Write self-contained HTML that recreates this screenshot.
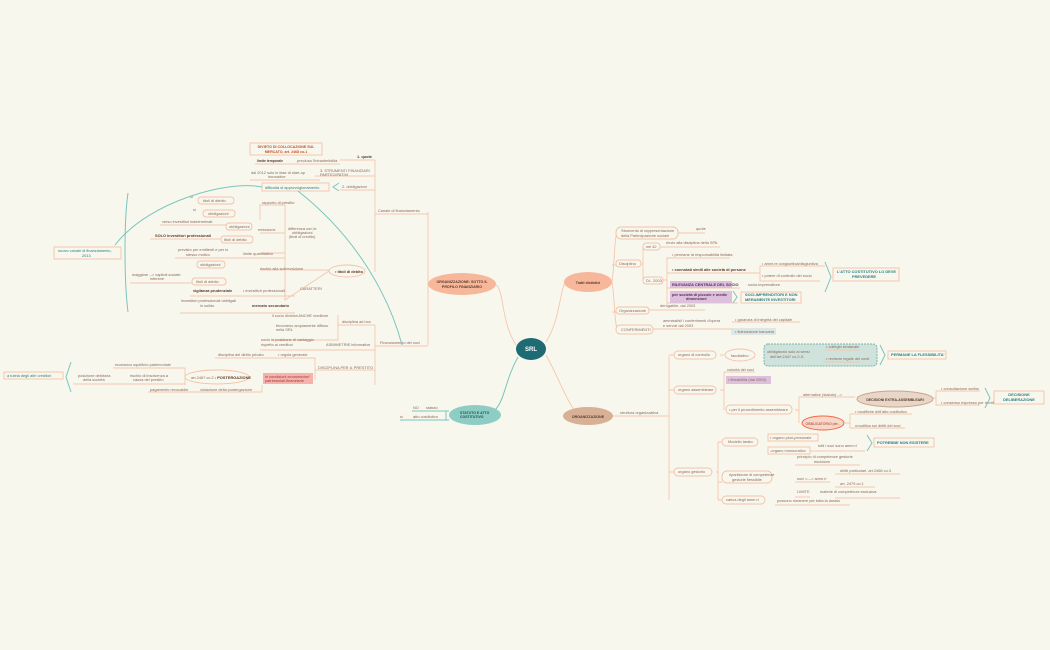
<!DOCTYPE html>
<html><head><meta charset="utf-8"><style>
html,body{margin:0;padding:0;background:#f8f7ee;}
svg{display:block}
text{font-family:"Liberation Sans",sans-serif;font-size:3.9px;fill:#8a6a5a}
.b{font-weight:bold;fill:#5a3a2a}
.t{fill:#2a7f86}
.l{stroke:#f5c7ad;stroke-width:0.9;fill:none}
.lt{stroke:#7cc4bd;stroke-width:1;fill:none}
.box{fill:#f8f7ee;stroke:#f3c1a5;stroke-width:0.9}
</style></head><body>
<svg width="1050" height="650" viewBox="0 0 1050 650">
<rect width="1050" height="650" fill="#f8f7ee"/>
<path class="l" d="M516 345 C500 320,505 290,495 284" stroke-width="2"/>
<path class="l" d="M546 342 C560 320,560 290,565 283" stroke-width="2"/>
<path class="l" d="M546 355 C560 380,570 410,580 416" stroke-width="2"/>
<path class="lt" d="M518 357 C505 380,505 400,495 410" stroke-width="2"/>

<ellipse cx="531" cy="349" rx="15" ry="11" fill="#1f6b74"/>
<text x="531" y="351" text-anchor="middle" style="font-size:6px;font-weight:bold;fill:#fff">SRL</text>

<ellipse cx="462" cy="284" rx="34" ry="11" fill="#f7b79a"/>
<text x="462" y="283" text-anchor="middle" class="b" style="font-size:3.6px">ORGANIZZAZIONE: SOTTO IL</text>
<text x="462" y="288" text-anchor="middle" class="b" style="font-size:3.6px">PROFILO FINANZIARIO</text>
<path class="l" d="M428 212 V345"/>
<path class="l" d="M375 214 H428 M375 346 H428"/>
<text x="378" y="212">Canale di finanziamento</text>
<text x="380" y="344">Finanziamento dei soci</text>
<path class="l" d="M375 160 V272"/>
<path class="l" d="M340 160 H375 M315 176 H375 M340 190 H375"/>
<text x="357" y="158" class="b">1. quote</text>
<text x="320" y="172">3. STRUMENTI FINANZIARI</text>
<text x="320" y="176">PARTECIPATIVI</text>
<text x="342" y="188">2. obbligazioni</text>
<rect x="250" y="143" width="72" height="12" class="box" fill="#fbe0d0"/>
<text x="286" y="148" text-anchor="middle" class="b" style="fill:#c0502a;font-size:3.6px">DIVIETO DI COLLOCAZIONE SUL</text>
<text x="286" y="153" text-anchor="middle" class="b" style="fill:#c0502a;font-size:3.6px">MERCATO, art. 2468 co.1</text>
<path class="l" d="M255 164 H340"/>
<text x="257" y="162" class="b" style="font-size:3.4px">limite temporale</text>
<text x="297" y="162">preclusa l'intrasferibilità</text>
<path class="l" d="M250 180 H320"/>
<text x="251" y="174">dal 2012 solo in fase di start-up</text>
<text x="268" y="178">innovative</text>
<rect x="262" y="183" width="67" height="8" class="box"/>
<text x="265" y="189" class="t">difficoltà di approvvigionamento</text>
<path class="lt" d="M339 183 L333 187 L339 191"/>
<ellipse cx="347" cy="271" rx="18" ry="6" class="box"/>
<text x="335" y="273" class="b">• titoli di debito</text>
<path class="l" d="M285 205 V300 L329 271 M290 270 H329"/>
<path class="l" d="M285 205 H260 V220 M285 233 H260 M285 253 H260 M285 270 H260 M285 290 V300"/>
<text x="262" y="204">rapporto di prestito</text>
<text x="288" y="230">differenza con le</text>
<text x="292" y="234">obbligazioni</text>
<text x="289" y="238">(titoli di credito)</text>
<text x="258" y="231">emissione</text>
<text x="243" y="255">limite quantitativo</text>
<text x="260" y="270">rischio alla sottoscrizione</text>
<text x="300" y="290">CARATTERI</text>
<rect x="198" y="197" width="36" height="7" rx="3" class="box"/><text x="203" y="202">titoli di debito</text>
<rect x="203" y="210" width="32" height="7" rx="3" class="box"/><text x="208" y="215">obbligazioni</text>
<text x="190" y="198">sì</text><text x="193" y="211">sì</text>
<rect x="226" y="223" width="26" height="7" rx="3" class="box"/><text x="229" y="228">obbligazioni</text>
<rect x="221" y="236" width="32" height="7" rx="3" class="box"/><text x="224" y="241">titoli di debito</text>
<path class="l" d="M160 225 H226 M150 239 H221"/>
<text x="162" y="223">verso investitori indeterminati</text>
<text x="155" y="237" class="b">SOLO investitori professionali</text>
<path class="l" d="M175 258 H285"/>
<text x="178" y="251">previsto per emittenti e per lo</text>
<text x="186" y="256">stesso motivo</text>
<rect x="197" y="261" width="28" height="7" rx="3" class="box"/><text x="200" y="266">obbligazioni</text>
<rect x="192" y="278" width="34" height="7" rx="3" class="box"/><text x="196" y="283">titoli di debito</text>
<path class="l" d="M130 283 H192"/>
<text x="132" y="276">maggiore --&gt; capitoli sociale</text>
<text x="150" y="280">inferiore</text>
<path class="l" d="M190 296 H295 M180 313 H295"/>
<text x="193" y="292" class="b">vigilanza prudenziale</text>
<text x="243" y="292">• investitori professionali</text>
<text x="181" y="302">investitori professionali obbligati</text>
<text x="200" y="307">in solido</text>
<text x="252" y="307" class="b">mercato secondario</text>
<path class="lt" d="M128 193 C124 220,124 280,128 312" stroke-width="1.2"/>
<rect x="54" y="247" width="67" height="12" class="box"/>
<text x="58" y="252" class="t">nuovo canale di finanziamento,</text>
<text x="82" y="257" class="t">2013</text>
<path class="lt" d="M115 245 C150 200,230 180,262 187"/>
<path class="lt" d="M298 191 C360 240,390 300,402 345"/>
<path class="l" d="M375 325 V370 M337 325 H375 M272 340 H338 V315 M338 325 V340 M260 350 H375 M315 370 H375 V385 M315 370 V380"/>
<text x="342" y="323">disciplina ad hoc</text>
<text x="272" y="317">il socio diventa ANCHE creditore</text>
<text x="276" y="327">fenomeno ampiamente diffuso</text>
<text x="276" y="331">nella SRL</text>
<text x="261" y="341">socio in posizione di vantaggio</text>
<text x="261" y="346">rispetto ai creditori</text>
<text x="326" y="346">ASIMMETRIE informative</text>
<text x="318" y="369">DISCIPLINA PER IL PRESTITO</text>
<path class="l" d="M215 358 H315 V370"/>
<text x="218" y="356">disciplina del diritto privato</text>
<text x="278" y="356">• regola generale</text>
<rect x="263" y="373" width="50" height="11" fill="#f6b3ae"/>
<text x="265" y="378" style="fill:#a03a30">in condizioni economiche/</text>
<text x="265" y="382" style="fill:#a03a30">patrimoniali-finanziarie</text>
<ellipse cx="217" cy="377" rx="32" ry="7" class="box"/>
<text x="191" y="379">art.2467 co.2 • <tspan class="b">POSTERGAZIONE</tspan></text>
<path class="l" d="M113 368 H185 V385 M73 384 H185 M148 392 H262 V385"/>
<text x="115" y="366">eccessivo squilibrio patrimoniale</text>
<text x="78" y="377">posizione debitoria</text>
<text x="83" y="381">della società</text>
<text x="130" y="377">rischio di insolvenza a</text>
<text x="133" y="381">causa del prestito</text>
<text x="150" y="391">pagamento revocabile</text>
<text x="200" y="391">violazione della postergazione</text>
<path class="lt" d="M71 362 L66 377 L71 392"/>
<rect x="4" y="372" width="59" height="7" class="box"/>
<text x="7" y="377" class="t">a tutela degli altri creditori</text>

<ellipse cx="475" cy="415" rx="26" ry="10" fill="#8ecdc4"/>
<text x="460" y="414" class="b" style="font-size:3.5px;fill:#1f4f55">STATUTO E ATTO</text>
<text x="460" y="418" class="b" style="font-size:3.5px;fill:#1f4f55">COSTITUTIVO</text>
<path class="lt" d="M412 411 H449 M400 420 H449 M446 411 V420"/>
<text x="413" y="409">NO</text><text x="426" y="409">statuto</text>
<text x="400" y="418">sì</text><text x="413" y="418">atto costitutivo</text>

<ellipse cx="588" cy="282" rx="24" ry="10" fill="#f7b79a"/>
<text x="588" y="284" text-anchor="middle" class="b" style="font-size:3.6px">Tratti distintivi</text>
<path class="l" d="M612 282 C615 260,614 240,617 232 M612 282 C615 300,614 320,617 328 M612 265 H618 M612 312 H618"/>
<rect x="616" y="227" width="62" height="12" rx="5" class="box"/>
<text x="621" y="232">Strumento di rappresentazione</text>
<text x="621" y="237">della Partecipazione sociale</text>
<path class="l" d="M678 233 H705"/><text x="696" y="230">quote</text>
<rect x="616" y="260" width="25" height="7" rx="3" class="box"/><text x="619" y="265">Disciplina</text>
<path class="l" d="M641 264 H643 V247 V280 M643 247 H660 M643 280 H660"/>
<rect x="643" y="243" width="17" height="7" rx="3" class="box"/><text x="646" y="248">nel 42</text>
<path class="l" d="M660 247 H720"/><text x="666" y="244">rinvio alla disciplina della SPA</text>
<rect x="643" y="277" width="20" height="7" rx="3" class="box"/><text x="646" y="282">DL. 2003</text>
<path class="l" d="M663 280 H667 V257 V305 M667 258 H730 M667 273 H760 M667 288 H740 M667 303 H738"/>
<text x="672" y="256">• permane la responsabilità limitata</text>
<text x="672" y="271" class="b">• connotati simili alle società di persone</text>
<path class="l" d="M760 273 V266 H825 M760 273 V281 H820"/>
<text x="762" y="265">• amm.re congiuntiva/disgiuntiva</text>
<text x="762" y="277">• potere di controllo del socio</text>
<rect x="670" y="281" width="62" height="7" fill="#dcc0dc"/>
<text x="672" y="286" class="b" style="fill:#5a2a5a">RILEVANZA CENTRALE DEL SOCIO</text>
<text x="748" y="286">socio-imprenditore</text>
<rect x="670" y="291" width="62" height="12" fill="#dcc0dc"/>
<text x="672" y="296" class="b" style="fill:#5a2a5a">per società di piccole e medie</text>
<text x="686" y="300" class="b" style="fill:#5a2a5a">dimensioni</text>
<path class="lt" d="M733 291 L737 297 L733 303"/>
<rect x="741" y="292" width="60" height="11" class="box"/>
<text x="745" y="296" class="b" style="fill:#2a7f86">SOCI-IMPRENDITORI E NON</text>
<text x="745" y="301" class="b" style="fill:#2a7f86">MERAMENTE INVESTITORI</text>
<path class="lt" d="M825 262 L831 277 L825 292"/>
<rect x="833" y="268" width="66" height="13" class="box"/>
<text x="837" y="273" class="b" style="fill:#2a7f86">L'ATTO COSTITUTIVO LO DEVE</text>
<text x="852" y="278" class="b" style="fill:#2a7f86">PREVEDERE</text>
<rect x="616" y="307" width="33" height="7" rx="3" class="box"/><text x="619" y="312">Organizzazione</text>
<path class="l" d="M649 310 H705"/><text x="660" y="307">derogabile, dal 2003</text>
<rect x="616" y="325" width="37" height="9" rx="4" class="box"/><text x="621" y="331">CONFERIMENTI</text>
<path class="l" d="M653 329 H732 M732 322 H800 M732 329 V335"/>
<text x="663" y="322">ammissibili i conferimenti d'opera</text>
<text x="663" y="327">e servizi dal 2003</text>
<text x="735" y="321">• garanzia di integrità del capitale</text>
<rect x="732" y="328" width="44" height="7" fill="#dde8e6"/>
<text x="735" y="333">• fideiussione bancaria</text>

<ellipse cx="588" cy="416" rx="25" ry="9" fill="#d8b096"/>
<text x="588" y="418" text-anchor="middle" class="b" style="font-size:3.6px">ORGANIZZAZIONE</text>
<path class="l" d="M613 416 H667"/>
<text x="620" y="414">struttura organizzativa</text>
<path class="l" d="M669 356 V500 M667 416 H669 M669 355 H675 M669 390 H675 M669 472 H675"/>
<rect x="674" y="351" width="42" height="8" rx="4" class="box"/><text x="678" y="356">organo di controllo</text>
<path class="l" d="M720 355 H724"/>
<ellipse cx="740" cy="355" rx="15" ry="6" class="box"/><text x="731" y="357">facoltativo</text>
<rect x="764" y="344" width="113" height="22" rx="4" fill="#cfe3dc" stroke="#6fb7af" stroke-dasharray="2,1"/>
<text x="767" y="353">obbligatorio solo ai sensi</text>
<text x="770" y="358">dell'art.2447 co.2-3-</text>
<path class="l" d="M825 350 H860 M825 362 H860"/>
<text x="826" y="348">• collegio sindacale</text>
<text x="826" y="360">• revisore legale dei conti</text>
<path class="lt" d="M880 345 L885 355 L880 365"/>
<rect x="888" y="351" width="58" height="8" class="box"/>
<text x="891" y="356" class="b" style="fill:#2a7f86">PERMANE LA FLESSIBILITA'</text>
<rect x="674" y="386" width="42" height="8" rx="4" class="box"/><text x="678" y="391">organo assembleare</text>
<path class="l" d="M720 390 H724 V372 V410 M724 372 H755"/>
<text x="727" y="371">volontà dei soci</text>
<rect x="726" y="376" width="45" height="8" fill="#dcc0dc"/>
<text x="728" y="381">• flessibilità (dal 2003)</text>
<rect x="726" y="405" width="66" height="9" rx="4" class="box"/>
<text x="729" y="411">• per il procedimento assembleare</text>
<path class="l" d="M795 410 H799 V397 V423 M799 397 H855"/>
<text x="803" y="396">alternative (statuto)  --&gt;</text>
<ellipse cx="895" cy="399" rx="38" ry="8" fill="#e8d6c8" stroke="#c9a58d"/>
<text x="895" y="401" text-anchor="middle" class="b" style="fill:#5a3a2a;font-size:3.5px">DECISIONI EXTRA-ASSEMBLEARI</text>
<path class="l" d="M933 398 H936 V391 V406 M936 391 H980 M936 405 H980"/>
<text x="941" y="390">• consultazione scritta</text>
<text x="941" y="404">• consenso espresso per iscritto</text>
<path class="lt" d="M985 388 L990 398 L985 408"/>
<rect x="994" y="391" width="50" height="13" class="box"/>
<text x="1019" y="396" text-anchor="middle" class="b" style="fill:#2a7f86">DECISIONE</text>
<text x="1019" y="401" text-anchor="middle" class="b" style="fill:#2a7f86">DELIBERAZIONE</text>
<ellipse cx="823" cy="423" rx="21" ry="7" fill="#f9d7c7" stroke="#f06a4a"/>
<text x="823" y="425" text-anchor="middle" style="fill:#a03a30;font-size:3.5px">OBBLIGATORIO per...</text>
<path class="l" d="M844 423 H850 V414 V428 M850 414 H912 M850 428 H905"/>
<text x="855" y="413">• modifiche dell'atto costitutivo</text>
<text x="855" y="427">•modifica sui diritti dei soci</text>
<rect x="674" y="468" width="38" height="8" rx="4" class="box"/><text x="678" y="473">organo gestorio</text>
<path class="l" d="M716 472 H718 V442 V500 M718 442 H722 M718 482 H722 M718 500 H722"/>
<rect x="722" y="438" width="36" height="8" rx="4" class="box"/><text x="728" y="443">Modello tarato</text>
<rect x="768" y="434" width="50" height="7" class="box"/><text x="770" y="439">• organo pluri-personale</text>
<rect x="768" y="447" width="42" height="7" class="box"/><text x="770" y="452">-organo monocratico</text>
<path class="l" d="M810 451 H865"/><text x="818" y="447">tutti i soci sono amm.ri</text>
<path class="lt" d="M867 435 L872 443 L867 451"/>
<rect x="874" y="438" width="60" height="9" class="box"/>
<text x="877" y="444" class="b" style="fill:#2a7f86">POTREBBE NON ESISTERE</text>
<rect x="722" y="471" width="50" height="12" rx="5" class="box"/>
<text x="729" y="476">ripartizione di competenze</text>
<text x="732" y="481">gestorie flessibile</text>
<path class="l" d="M795 465 H860 M795 482 H830 M795 497 H810 M835 474 H900 M835 487 H875 M835 498 H900"/>
<text x="797" y="458">principio di competenze gestorie</text>
<text x="814" y="463">esclusive</text>
<text x="797" y="480">soci &lt;---&gt; amm.ri</text>
<text x="840" y="472">diritti particolari, art.2468 co.3</text>
<text x="840" y="485">art. 2479 co.1</text>
<text x="797" y="493">LIMITE</text>
<text x="820" y="493">materie di competenza esclusiva</text>
<rect x="722" y="496" width="43" height="8" rx="4" class="box"/><text x="726" y="501">carica degli amm.ri</text>
<path class="l" d="M775 505 H850"/><text x="777" y="502">possono rimanere per tutta la durata</text>
</svg>
</body></html>
